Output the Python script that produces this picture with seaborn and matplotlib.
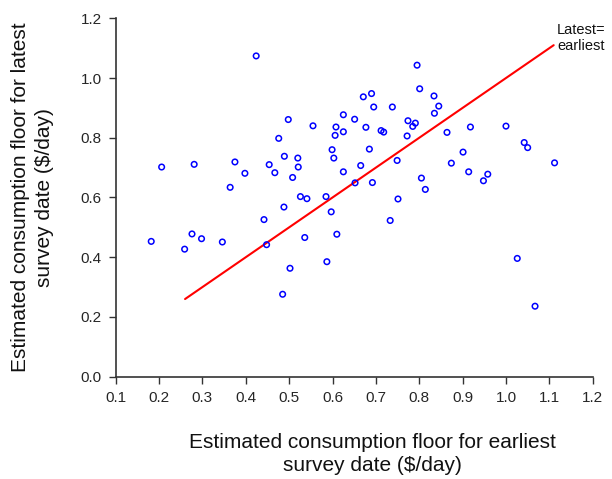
import matplotlib
matplotlib.use("Agg")
import matplotlib.pyplot as plt
import seaborn as sns
import pandas as pd

earliest = [0.424, 0.476, 0.206, 0.281, 0.375, 0.398, 0.454, 0.467, 0.364, 0.795,
            0.801, 0.834, 0.845, 0.835, 0.671, 0.690, 0.695, 0.738, 0.498, 0.555,
            0.625, 0.651, 0.608, 0.606, 0.625, 0.677, 0.712, 0.718, 0.774, 0.791,
            0.785, 0.772, 0.864, 0.489, 0.520, 0.521, 0.508, 0.599, 0.603, 0.685,
            0.665, 0.625, 0.749, 0.652, 0.692, 0.805, 0.814, 0.526, 0.541, 0.585,
            0.918, 1.000, 1.042, 1.050, 0.901, 0.874, 0.914, 0.958, 0.948, 1.112,
            0.442, 0.182, 0.259, 0.276, 0.298, 0.346, 0.448, 0.488, 0.597, 0.536,
            0.610, 0.587, 0.502, 0.485, 0.751, 0.733, 1.026, 1.067]
latest = [1.074, 0.798, 0.702, 0.711, 0.719, 0.681, 0.710, 0.683, 0.634, 1.043,
          0.964, 0.940, 0.906, 0.882, 0.937, 0.948, 0.903, 0.903, 0.861, 0.840,
          0.877, 0.862, 0.836, 0.808, 0.820, 0.835, 0.824, 0.819, 0.857, 0.849,
          0.838, 0.806, 0.818, 0.738, 0.732, 0.702, 0.667, 0.760, 0.732, 0.762,
          0.707, 0.686, 0.724, 0.649, 0.650, 0.665, 0.627, 0.603, 0.596, 0.603,
          0.836, 0.839, 0.784, 0.767, 0.752, 0.715, 0.686, 0.678, 0.656, 0.716,
          0.526, 0.453, 0.427, 0.478, 0.462, 0.451, 0.442, 0.568, 0.552, 0.466,
          0.477, 0.385, 0.363, 0.276, 0.595, 0.523, 0.396, 0.236]
line_x = [0.26, 1.11]
line_y = [0.26, 1.11]
xticks = [0.1, 0.2, 0.3, 0.4, 0.5, 0.6, 0.7, 0.8, 0.9, 1.0, 1.1, 1.2]
yticks = [0.0, 0.2, 0.4, 0.6, 0.8, 1.0, 1.2]

sns.set_style("ticks")
plt.rcParams['font.family'] = ['Liberation Sans', 'DejaVu Sans']

df = pd.DataFrame({"earliest": earliest, "latest": latest})
line_df = pd.DataFrame({"x": line_x, "y": line_y})

fig = plt.figure(figsize=(6.12, 4.79), dpi=100)
ax = fig.add_axes([0.189, 0.2136, 0.7795, 0.7482])

sns.scatterplot(data=df, x="earliest", y="latest", ax=ax, s=16,
                facecolor="none", edgecolor="#0000ff", linewidth=1.1, zorder=3)
sns.lineplot(data=line_df, x="x", y="y", ax=ax, color="#ff0000", linewidth=1.5,
             zorder=2)

ax.text(1.118, 1.133, "Latest=\nearliest", fontsize=10.5, ha="left", va="center",
        linespacing=1.2, color="#111111")

ax.set_xlim(0.1, 1.2)
ax.set_ylim(0.0, 1.2)
ax.set_xticks(xticks)
ax.set_yticks(yticks)
ax.set_xticklabels([f"{t:.1f}" for t in xticks], fontsize=11)
ax.set_yticklabels([f"{t:.1f}" for t in yticks], fontsize=11)
ax.tick_params(direction="out", length=5, width=1, color="#333333", pad=5)
for side in ["left", "bottom"]:
    ax.spines[side].set_linewidth(1.2)
    ax.spines[side].set_color("#333333")
sns.despine(ax=ax)

ax.set_xlabel("Estimated consumption floor for earliest\nsurvey date ($/day)",
              fontsize=15, color="#111111", linespacing=1.32)
ax.xaxis.set_label_coords((372 - 115.7) / 477.0, -(454 - 376.7) / 358.4)
ax.xaxis.label.set_va("center")
ax.set_ylabel("Estimated consumption floor for latest\nsurvey date ($/day)",
              fontsize=15, labelpad=19, color="#111111", linespacing=1.32)

fig.savefig("out.png", dpi=100)
